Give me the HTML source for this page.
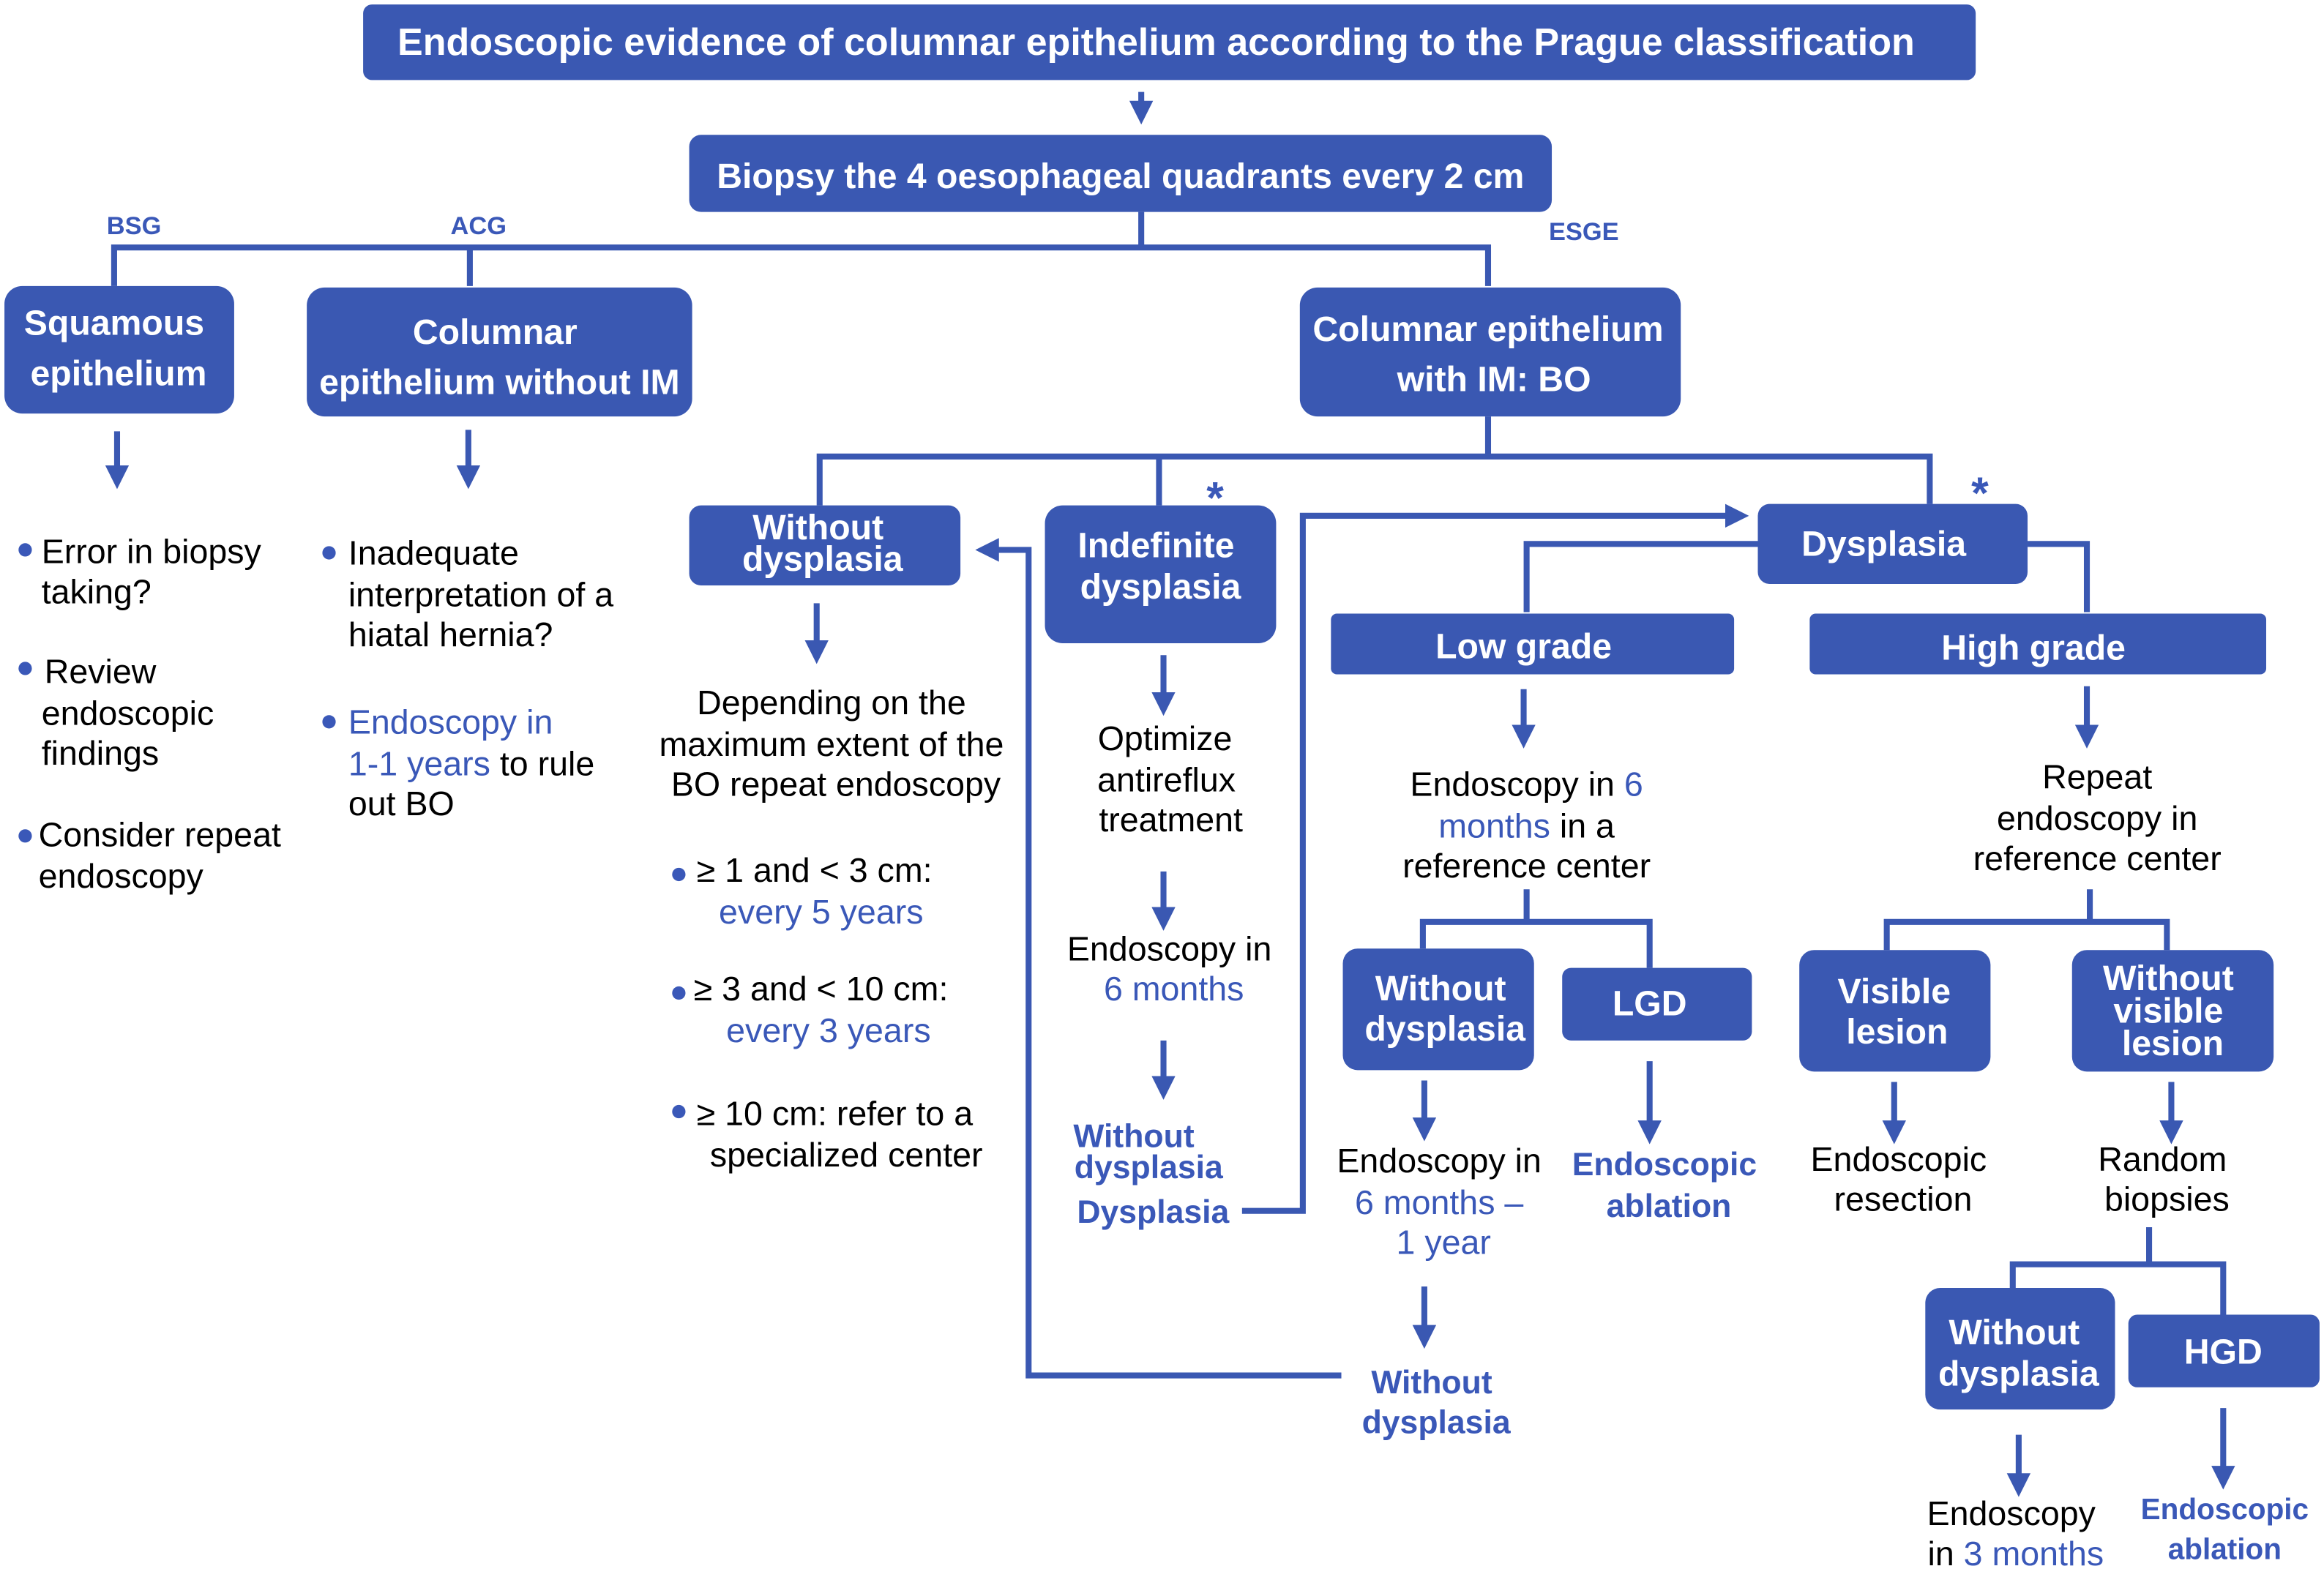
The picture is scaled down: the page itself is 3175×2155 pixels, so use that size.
<!DOCTYPE html>
<html><head><meta charset="utf-8"><style>
html,body{margin:0;padding:0;background:#fff;}
svg{display:block;}
text{font-family:"Liberation Sans",Arial,sans-serif;}
.w{fill:#fff;font-weight:bold;font-size:23.8px;text-anchor:middle;}
.k{fill:#000;font-size:23px;}
.kc{fill:#000;font-size:23px;text-anchor:middle;}
.b{fill:#3a58b8;}
.bb{fill:#3a58b8;font-weight:bold;font-size:22px;text-anchor:middle;}
.box{fill:#3a58b2;}
.ln{stroke:#3a58b2;stroke-width:4;fill:none;}
.sm{fill:#3a58b8;font-weight:bold;font-size:17px;}
</style></head><body>
<svg width="3175" height="2155" viewBox="0 0 1568 1064" preserveAspectRatio="none" xmlns="http://www.w3.org/2000/svg">
<defs>
<marker id="ah" markerWidth="4" markerHeight="4" refX="2" refY="2" orient="auto" markerUnits="strokeWidth">
<path d="M0,0 L4,2 L0,4 z" fill="#3a58b2"/></marker>
</defs>
<rect class="box" x="245" y="3" width="1088" height="51" rx="6"/>
<text class="w" x="780" y="37" style="font-size:25.7px">Endoscopic evidence of columnar epithelium according to the Prague classification</text>
<path class="ln" d="M770 62 V76" marker-end="url(#ah)"/>
<rect class="box" x="465" y="91" width="582" height="52" rx="8"/>
<text class="w" x="756" y="127">Biopsy the 4 oesophageal quadrants every 2 cm</text>
<path class="ln" d="M770 143 V167 M77 167 H1004 M77 165 V193 M317 165 V193 M1004 165 V193"/>
<text class="sm" x="72" y="158">BSG</text>
<text class="sm" x="304" y="158">ACG</text>
<text class="sm" x="1045" y="162">ESGE</text>

<rect class="box" x="3" y="193" width="155" height="86" rx="12"/>
<text class="w" x="77" y="226">Squamous</text><text class="w" x="80" y="260">epithelium</text>
<rect class="box" x="207" y="194" width="260" height="87" rx="12"/>
<text class="w" x="334" y="232">Columnar</text><text class="w" x="337" y="266">epithelium without IM</text>
<rect class="box" x="877" y="194" width="257" height="87" rx="12"/>
<text class="w" x="1004" y="230">Columnar epithelium</text><text class="w" x="1008" y="264">with IM: BO</text>

<path class="ln" d="M79 291 V322" marker-end="url(#ah)"/>
<path class="ln" d="M316 290 V322" marker-end="url(#ah)"/>

<circle class="b" cx="17" cy="371" r="4.5"/><text class="k" x="28" y="380">Error in biopsy</text><text class="k" x="28" y="407">taking?</text>
<circle class="b" cx="17" cy="451" r="4.5"/><text class="k" x="30" y="461">Review</text><text class="k" x="28" y="489">endoscopic</text><text class="k" x="28" y="516">findings</text>
<circle class="b" cx="17" cy="564" r="4.5"/><text class="k" x="26" y="571">Consider repeat</text><text class="k" x="26" y="599">endoscopy</text>

<circle class="b" cx="222" cy="373" r="4.5"/><text class="k" x="235" y="381">Inadequate</text><text class="k" x="235" y="409">interpretation of a</text><text class="k" x="235" y="436">hiatal hernia?</text>
<circle class="b" cx="222" cy="487" r="4.5"/><text class="k b" x="235" y="495">Endoscopy in</text>
<text class="k" x="235" y="523"><tspan class="b">1-1 years</tspan> to rule</text><text class="k" x="235" y="550">out BO</text>

<path class="ln" d="M1004 281 V308 M551 308 H1304 M553 306 V341 M782 306 V341 M1302 306 V340"/>
<text class="sm" x="814" y="346" style="font-size:30px">*</text>
<text class="sm" x="1330" y="343" style="font-size:30px">*</text>

<rect class="box" x="465" y="341" width="183" height="54" rx="8"/>
<text class="w" x="552" y="364">Without</text><text class="w" x="555" y="385">dysplasia</text>
<rect class="box" x="705" y="341" width="156" height="93" rx="12"/>
<text class="w" x="780" y="376">Indefinite</text><text class="w" x="783" y="404">dysplasia</text>
<rect class="box" x="1186" y="340" width="182" height="54" rx="8"/>
<text class="w" x="1271" y="375">Dysplasia</text>

<path class="ln" d="M551 407 V440" marker-end="url(#ah)"/>
<text class="kc" x="561" y="482">Depending on the</text><text class="kc" x="561" y="510">maximum extent of the</text><text class="kc" x="564" y="537">BO repeat endoscopy</text>
<circle class="b" cx="458" cy="590" r="4.5"/><text class="k" x="470" y="595">≥ 1 and &lt; 3 cm:</text><text class="kc b" x="554" y="623">every 5 years</text>
<circle class="b" cx="458" cy="670" r="4.5"/><text class="k" x="468" y="675">≥ 3 and &lt; 10 cm:</text><text class="kc b" x="559" y="703">every 3 years</text>
<circle class="b" cx="458" cy="750" r="4.5"/><text class="k" x="470" y="759">≥ 10 cm: refer to a</text><text class="kc" x="571" y="787">specialized center</text>

<path class="ln" d="M785 442 V475" marker-end="url(#ah)"/>
<text class="kc" x="786" y="506">Optimize</text><text class="kc" x="787" y="534">antireflux</text><text class="kc" x="790" y="561">treatment</text>
<path class="ln" d="M785 588 V620" marker-end="url(#ah)"/>
<text class="kc" x="789" y="648">Endoscopy in</text><text class="kc b" x="792" y="675">6 months</text>
<path class="ln" d="M785 702 V734" marker-end="url(#ah)"/>
<text class="bb" x="765" y="774">Without</text><text class="bb" x="775" y="795">dysplasia</text><text class="bb" x="778" y="825">Dysplasia</text>
<path class="ln" d="M838 817 H879 V348 H1172" marker-end="url(#ah)"/>
<path class="ln" d="M905 928 H694 V371 H666" marker-end="url(#ah)"/>

<path class="ln" d="M1186 367 H1030 V413 M1368 367 H1408 V413"/>
<rect class="box" x="898" y="414" width="272" height="41" rx="4"/>
<text class="w" x="1028" y="444">Low grade</text>
<rect class="box" x="1221" y="414" width="308" height="41" rx="4"/>
<text class="w" x="1372" y="445">High grade</text>

<path class="ln" d="M1028 465 V497" marker-end="url(#ah)"/>
<text class="kc" x="1030" y="537">Endoscopy in <tspan class="b">6</tspan></text>
<text class="kc" x="1030" y="565"><tspan class="b">months</tspan> in a</text>
<text class="kc" x="1030" y="592">reference center</text>
<path class="ln" d="M1030 600 V622 M958 622 H1115 M960 620 V640 M1113 620 V653"/>
<rect class="box" x="906" y="640" width="129" height="82" rx="10"/>
<text class="w" x="972" y="675">Without</text><text class="w" x="975" y="702">dysplasia</text>
<rect class="box" x="1054" y="653" width="128" height="49" rx="6"/>
<text class="w" x="1113" y="685">LGD</text>
<path class="ln" d="M961 729 V762" marker-end="url(#ah)"/>
<text class="kc" x="971" y="791">Endoscopy in</text><text class="kc b" x="971" y="819">6 months –</text><text class="kc b" x="974" y="846">1 year</text>
<path class="ln" d="M961 868 V902" marker-end="url(#ah)"/>
<text class="bb" x="966" y="940">Without</text><text class="bb" x="969" y="967">dysplasia</text>
<path class="ln" d="M1113 716 V764" marker-end="url(#ah)"/>
<text class="bb" x="1123" y="793">Endoscopic</text><text class="bb" x="1126" y="821">ablation</text>

<path class="ln" d="M1408 463 V497" marker-end="url(#ah)"/>
<text class="kc" x="1415" y="532">Repeat</text><text class="kc" x="1415" y="560">endoscopy in</text><text class="kc" x="1415" y="587">reference center</text>
<path class="ln" d="M1410 600 V622 M1271 622 H1464 M1273 620 V641 M1462 620 V641"/>
<rect class="box" x="1214" y="641" width="129" height="82" rx="10"/>
<text class="w" x="1278" y="677">Visible</text><text class="w" x="1280" y="704">lesion</text>
<rect class="box" x="1398" y="641" width="136" height="82" rx="10"/>
<text class="w" x="1463" y="668">Without</text><text class="w" x="1463" y="690">visible</text><text class="w" x="1466" y="712">lesion</text>
<path class="ln" d="M1278 730 V764" marker-end="url(#ah)"/>
<text class="kc" x="1281" y="790">Endoscopic</text><text class="kc" x="1284" y="817">resection</text>
<path class="ln" d="M1465 730 V764" marker-end="url(#ah)"/>
<text class="kc" x="1459" y="790">Random</text><text class="kc" x="1462" y="817">biopsies</text>

<path class="ln" d="M1450 828 V853 M1356 853 H1502 M1358 851 V869 M1500 851 V887"/>
<rect class="box" x="1299" y="869" width="128" height="82" rx="10"/>
<text class="w" x="1359" y="907">Without</text><text class="w" x="1362" y="935">dysplasia</text>
<rect class="box" x="1436" y="887" width="129" height="49" rx="6"/>
<text class="w" x="1500" y="920">HGD</text>
<path class="ln" d="M1362 968 V1002" marker-end="url(#ah)"/>
<text class="kc" x="1357" y="1029">Endoscopy</text><text class="kc" x="1360" y="1056">in <tspan class="b">3 months</tspan></text>
<path class="ln" d="M1500 950 V997" marker-end="url(#ah)"/>
<text class="bb" x="1501" y="1025" style="font-size:20px">Endoscopic</text><text class="bb" x="1501" y="1052" style="font-size:20px">ablation</text>
</svg>
</body></html>
